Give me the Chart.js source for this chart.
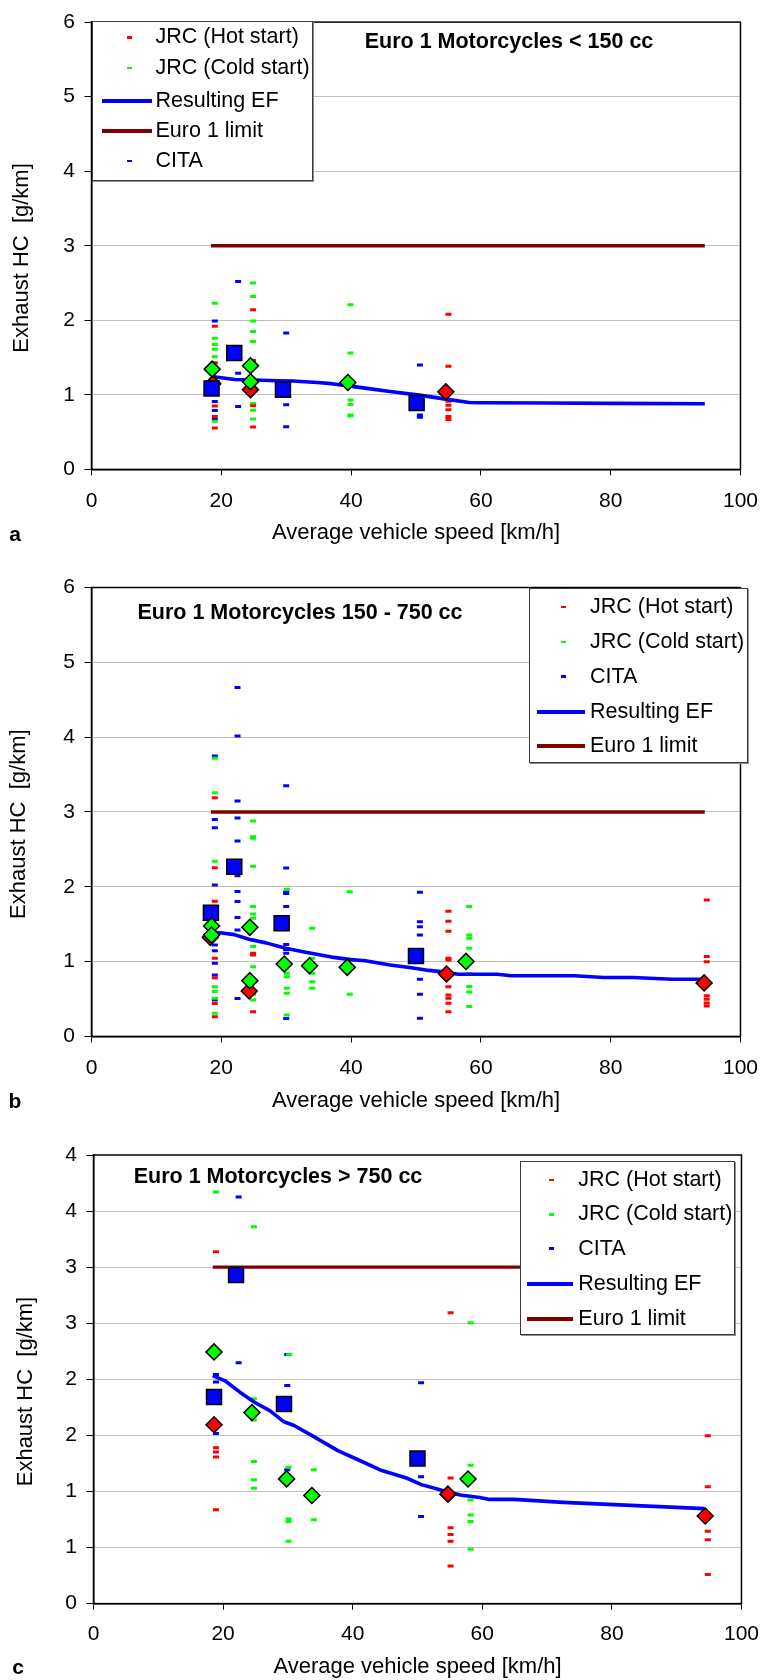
<!DOCTYPE html>
<html>
<head>
<meta charset="utf-8">
<script src="https://cdn.jsdelivr.net/npm/chart.js@4.4.1/dist/chart.umd.min.js"></script>
<style>
html,body{margin:0;padding:0;background:#fff;}
body{width:771px;height:1680px;position:relative;overflow:hidden;font-family:"Liberation Sans",Arial,Helvetica,sans-serif;color:#000;}
canvas{position:absolute;left:0;}
.t{position:absolute;line-height:1;white-space:nowrap;color:#000;}
.lg{position:absolute;border:1.5px solid #3a3a3a;background:#fff;box-sizing:border-box;box-shadow:1px 1px 0 #909090;}
.mk{position:absolute;}
</style>
</head>
<body>
<canvas id="ca" width="771" height="546" style="top:0px"></canvas>
<canvas id="cb" width="771" height="568" style="top:546px"></canvas>
<canvas id="cc" width="771" height="566" style="top:1114px"></canvas>
<script>
// ---------------- DATA ----------------
// Panel a: Euro 1 Motorcycles < 150 cc   [speed km/h, HC g/km]
const A_HOT  = [[19.0,1.92],[19.0,1.43],[19.0,0.85],[19.0,0.71],[19.0,0.555],
                [24.9,2.14],[24.9,1.46],[24.9,1.06],[24.9,0.855],[24.9,0.57],
                [55.0,2.08],[55.0,1.385],[55.0,0.915],[55.0,0.86],[55.0,0.80],[55.0,0.71],[55.0,0.67]];
const A_COLD = [[19.0,2.23],[19.0,1.76],[19.0,1.675],[19.0,1.61],[19.0,1.51],[19.0,0.645],
                [24.9,2.50],[24.9,2.32],[24.9,1.99],[24.9,1.85],[24.9,1.715],[24.9,1.06],[24.9,0.885],[24.9,0.795],[24.9,0.675],
                [39.9,2.21],[39.9,1.56],[39.9,0.93],[39.9,0.87],[39.9,0.73],[39.9,0.715]];
const A_CITA = [[19.0,1.99],[19.0,0.91],[19.0,0.79],[19.0,0.67],
                [22.6,2.52],[22.6,1.29],[22.6,0.845],
                [30.0,1.83],[30.0,0.867],[30.0,0.572],
                [50.6,1.40],[50.6,0.73],[50.6,0.70]];
const A_COLD_MEAN = [[18.6,1.345],[24.5,1.39],[24.5,1.175],[39.5,1.166]];
const A_HOT_MEAN  = [[18.7,1.15],[24.5,1.07],[54.6,1.04]];
const A_CITA_MEAN = [[18.5,1.086],[22.0,1.56],[29.5,1.07],[50.1,0.89]];
const A_EF = [[18.5,1.245],[20,1.23],[22.1,1.206],[25,1.2],[28.7,1.19],[31,1.185],[34.8,1.166],[37,1.15],
              [39.9,1.117],[43,1.08],[46,1.045],[50.5,0.996],[54.6,0.943],[58.2,0.898],[60,0.895],[70,0.89],[80,0.885],[94.5,0.88]];
const A_LIMIT = [[18.4,3],[94.5,3]];

// Panel b: Euro 1 Motorcycles 150 - 750 cc
const B_HOT  = [[19.0,3.19],[19.0,2.255],[19.0,1.805],[19.0,1.044],[19.0,0.785],[19.0,0.44],[19.0,0.264],
                [24.9,1.11],[24.9,1.088],[24.9,0.33],
                [55.0,1.672],[55.0,1.538],[55.0,1.405],[55.0,1.044],[55.0,1.02],[55.0,0.665],[55.0,0.553],[55.0,0.509],[55.0,0.442],[55.0,0.33],
                [94.8,1.823],[94.8,1.069],[94.8,0.997],[94.8,0.544],[94.8,0.496],[94.8,0.448],[94.8,0.406]];
const B_COLD = [[19.0,3.717],[19.0,3.257],[19.0,2.34],[19.0,0.665],[19.0,0.6],[19.0,0.51],[19.0,0.31],
                [24.9,2.88],[24.9,2.67],[24.9,2.65],[24.9,2.273],[24.9,1.737],[24.9,1.636],[24.9,1.578],[24.9,1.288],[24.9,1.2],[24.9,0.932],[24.9,0.56],[24.9,0.487],
                [30.1,1.966],[30.1,0.843],[30.1,0.798],[30.1,0.643],[30.1,0.576],[30.1,0.286],
                [34.0,1.445],[34.0,1.044],[34.0,0.843],[34.0,0.731],[34.0,0.643],
                [39.8,1.934],[39.8,0.563],
                [58.2,1.737],[58.2,1.355],[58.2,1.312],[58.2,1.179],[58.2,0.84],[58.2,0.668],[58.2,0.592],[58.2,0.401]];
const B_CITA = [[19.0,3.748],[19.0,2.90],[19.0,2.79],[19.0,2.024],[19.0,1.22],[19.0,1.145],[19.0,0.977],[19.0,0.82],[19.0,0.487],
                [22.5,4.663],[22.5,4.015],[22.5,3.146],[22.5,2.92],[22.5,2.611],[22.5,2.148],[22.5,1.938],[22.5,1.804],[22.5,1.59],[22.5,1.422],[22.5,0.505],
                [30.0,3.35],[30.0,2.252],[30.0,1.93],[30.0,1.91],[30.0,1.737],[30.0,1.227],[30.0,1.16],[30.0,1.11],[30.0,0.93],[30.0,0.238],
                [50.6,1.926],[50.6,1.533],[50.6,1.466],[50.6,1.355],[50.6,0.763],[50.6,0.563],[50.6,0.242]];
const B_COLD_MEAN = [[18.5,1.475],[18.5,1.355],[24.4,1.458],[24.4,0.745],[29.7,0.968],[33.6,0.945],[39.4,0.923],[57.7,1.002]];
const B_HOT_MEAN  = [[18.3,1.324],[24.3,0.607],[54.7,0.834],[94.4,0.715]];
const B_CITA_MEAN = [[18.4,1.653],[22.0,2.268],[29.3,1.511],[50.0,1.074]];
const B_EF = [[18.5,1.394],[20.1,1.383],[22,1.36],[24.25,1.298],[26.9,1.25],[29.9,1.179],[33.2,1.121],[37,1.06],
              [40,1.026],[42.2,1.012],[46,0.954],[49,0.921],[52,0.882],[54.6,0.859],[56.5,0.83],[62.5,0.83],
              [64.7,0.811],[74.4,0.811],[78.9,0.787],[83.4,0.787],[89.4,0.763],[94.4,0.763]];
const B_LIMIT = [[18.4,3],[94.5,3]];

// Panel c: Euro 1 Motorcycles > 750 cc
const C_HOT  = [[18.9,3.137],[18.9,1.39],[18.9,1.351],[18.9,1.308],[18.9,0.837],
                [55.1,2.594],[55.1,1.12],[55.1,0.676],[55.1,0.616],[55.1,0.557],[55.1,0.336],
                [94.8,1.496],[94.8,1.041],[94.8,0.646],[94.8,0.570],[94.8,0.26]];
const C_COLD = [[18.9,3.671],[18.9,1.572],
                [24.75,3.361],[24.75,1.826],[24.75,1.638],[24.75,1.266],[24.75,1.104],[24.75,1.028],
                [30.2,2.221],[30.1,1.216],[30.1,0.755],[30.1,0.731],[30.1,0.557],
                [34.0,1.193],[34.0,0.747],
                [58.2,2.504],[58.2,1.233],[58.2,0.923],[58.2,0.791],[58.2,0.731],[58.2,0.484]];
const C_CITA = [[18.9,2.043],[18.9,1.977],[18.9,1.516],
                [22.4,3.625],[22.4,2.148],
                [29.9,2.221],[29.9,1.944],[29.9,1.193],
                [50.55,1.97],[50.55,1.13],[50.55,0.777]];
const C_COLD_MEAN = [[18.6,2.244],[24.45,1.703],[29.8,1.112],[33.7,0.964],[57.8,1.111]];
const C_HOT_MEAN  = [[18.6,1.595],[54.7,0.976],[94.4,0.781]];
const C_CITA_MEAN = [[18.6,1.843],[22.0,2.93],[29.4,1.78],[50.0,1.293]];
const C_EF = [[18.4,2.033],[20.4,1.983],[22.6,1.885],[24.9,1.793],[27.2,1.72],[29.4,1.621],[30.95,1.588],[34,1.489],
              [37.7,1.364],[40.75,1.285],[44.5,1.186],[48.3,1.12],[50.6,1.061],[53.6,1.012],[56.6,0.969],[59.6,0.946],
              [61.1,0.929],[64.9,0.929],[72.5,0.903],[83.8,0.874],[94.3,0.847]];
const C_LIMIT = [[18.4,3],[94.5,3]];

// Axis ticks / labels
const X_TICKS = {min:0, max:100, step:20};
const Y_TICKS_AB = {min:0, max:6, step:1};
const Y_TICKS_C = {min:0, max:4, step:0.5};
const TITLES = ['Euro 1 Motorcycles < 150 cc','Euro 1 Motorcycles 150 - 750 cc','Euro 1 Motorcycles > 750 cc'];
const PANEL_LETTERS = ['a','b','c'];
const X_TITLE = 'Average vehicle speed [km/h]';
const Y_TITLE = 'Exhaust HC  [g/km]';
const LABELS = {hot:'JRC (Hot start)', cold:'JRC (Cold start)', cita:'CITA', ef:'Resulting EF', limit:'Euro 1 limit'};

// ---------------- STYLE / LAYOUT ----------------
const FONT = '"Liberation Sans", Arial, Helvetica, sans-serif';
const COL = {hot:'#ff0000', cold:'#00ff00', cita:'#0000ff', ef:'#0000ff', limit:'#800000'};

const PANELS = [
  {id:'ca', top:0, h:546, padTop:21.3, padRight:23, yW:91.5, xH:76.6, yT:Y_TICKS_AB, yTitlePad:9, xTickPad:13,
   data:{hot:A_HOT, cold:A_COLD, cita:A_CITA, coldM:A_COLD_MEAN, hotM:A_HOT_MEAN, citaM:A_CITA_MEAN, ef:A_EF, limit:A_LIMIT},
   titleX:509, titleY:42.2, letterX:15, letterY:535,
   legend:{left:91.7, top:21, w:221, h:160, order:['hot','cold','ef','limit','cita'], rows:[37.3,67.8,100.8,131.3,161.1],
           dashX:129.3, lineX1:101.7, lineX2:151.7, textX:155.5}},
  {id:'cb', top:546, h:568, padTop:41.5, padRight:23, yW:91.5, xH:77.6, yT:Y_TICKS_AB, yTitlePad:6, xTickPad:13,
   data:{hot:B_HOT, cold:B_COLD, cita:B_CITA, coldM:B_COLD_MEAN, hotM:B_HOT_MEAN, citaM:B_CITA_MEAN, ef:B_EF, limit:B_LIMIT},
   titleX:300, titleY:613.4, letterX:15, letterY:1101.7,
   legend:{left:529.3, top:588, w:219, h:175, order:['hot','cold','cita','ef','limit'], rows:[607,642,676.7,712.3,745.7],
           dashX:563.3, lineX1:536.7, lineX2:585, textX:590}},
  {id:'cc', top:1114, h:566, padTop:41, padRight:26.5, yW:93.5, xH:76.4, yT:Y_TICKS_C, yTitlePad:12.5, xTickPad:12,
   data:{hot:C_HOT, cold:C_COLD, cita:C_CITA, coldM:C_COLD_MEAN, hotM:C_HOT_MEAN, citaM:C_CITA_MEAN, ef:C_EF, limit:C_LIMIT},
   titleX:278, titleY:1176.7, letterX:18, letterY:1668,
   legend:{left:520, top:1161, w:215, h:174, order:['hot','cold','cita','ef','limit'], rows:[1179.8,1214.3,1248.6,1283.7,1318.6],
           dashX:551.7, lineX1:526.7, lineX2:573.3, textX:578.3}}
];

function pts(arr){ return arr.map(p => ({x:p[0], y:p[1]})); }

const framePlugin = {
  id:'frame',
  beforeDatasetsDraw(chart){
    const a = chart.chartArea, c = chart.ctx;
    c.save();
    c.strokeStyle = '#000';
    c.lineWidth = 1.5;
    c.strokeRect(a.left, a.top, a.right - a.left, a.bottom - a.top);
    c.restore();
  }
};

function dashSet(label, arr, color, order){
  return {label, data:pts(arr), pointStyle:'line', pointRadius:3, pointBorderWidth:3,
          pointBorderColor:color, pointBackgroundColor:color, borderColor:color, backgroundColor:color,
          showLine:false, order};
}
function markerSet(label, arr, style, radius, fill, order){
  return {label, data:pts(arr), pointStyle:style, pointRadius:radius, pointBorderWidth:1.5,
          pointBorderColor:'#000', pointBackgroundColor:fill, borderColor:'#000', backgroundColor:fill,
          showLine:false, order};
}
function lineSet(label, arr, color, width, order){
  return {type:'line', label, data:pts(arr), borderColor:color, backgroundColor:color, borderWidth:width,
          pointRadius:0, fill:false, tension:0, order, borderCapStyle:'butt', borderJoinStyle:'round'};
}

PANELS.forEach((P, i) => {
  const d = P.data;
  const datasets = [
    markerSet('JRC cold mean', d.coldM, 'rectRot', 8, COL.cold, 0),
    markerSet('CITA mean', d.citaM, 'rect', 10.6, COL.cita, 1),
    markerSet('JRC hot mean', d.hotM, 'rectRot', 8, COL.hot, 2),
    lineSet(LABELS.ef, d.ef, COL.ef, 3.6, 3),
    lineSet(LABELS.limit, d.limit, COL.limit, 3.4, 4),
    dashSet(LABELS.hot, d.hot, COL.hot, 5),
    dashSet(LABELS.cold, d.cold, COL.cold, 6),
    dashSet(LABELS.cita, d.cita, COL.cita, 7)
  ];
  const yT = P.yT;
  new Chart(document.getElementById(P.id), {
    type:'scatter',
    data:{datasets},
    plugins:[framePlugin],
    options:{
      responsive:false, animation:false, events:[], devicePixelRatio:1,
      layout:{padding:{left:0, top:P.padTop, right:P.padRight, bottom:0}},
      plugins:{legend:{display:false}, tooltip:{enabled:false}, title:{display:false}},
      scales:{
        x:{type:'linear', position:'bottom', min:X_TICKS.min, max:X_TICKS.max,
           ticks:{stepSize:X_TICKS.step, color:'#000', font:{family:FONT, size:21}, padding:P.xTickPad, maxRotation:0, autoSkip:false},
           grid:{drawOnChartArea:false, drawTicks:true, tickLength:6, tickColor:'#000', tickWidth:1},
           border:{display:true, color:'#000', width:1.5},
           title:{display:true, text:X_TITLE, color:'#000', font:{family:FONT, size:22}, padding:{top:0, bottom:0}},
           afterFit(s){ s.height = P.xH; }},
        y:{type:'linear', position:'left', min:yT.min, max:yT.max,
           ticks:{stepSize:yT.step, color:'#000', font:{family:FONT, size:21}, padding:9.5,
                  callback:(v) => String(Math.round(v))},
           grid:{color:(c) => (c.tick && (c.tick.value === yT.min || c.tick.value === yT.max)) ? 'rgba(0,0,0,0)' : '#c0c0c0',
                 lineWidth:1, drawTicks:true, tickLength:7, tickColor:'#000', tickWidth:1},
           border:{display:true, color:'#000', width:1.5},
           title:{display:true, text:Y_TITLE + '    ', color:'#000', font:{family:FONT, size:22}, padding:{top:P.yTitlePad, bottom:0}},
           afterFit(s){ s.width = P.yW; }}
      }
    }
  });

  // chart title (inside plot area)
  addText(TITLES[i], P.titleX, P.titleY, 'bold 21.5px ' + FONT, 'center');
  // panel letter
  addText(PANEL_LETTERS[i], P.letterX, P.letterY - 1.7, 'bold 21px ' + FONT, 'center');
  // legend
  buildLegend(P.legend);
});

function addText(txt, x, y, font, align){
  const el = document.createElement('div');
  el.className = 't';
  el.style.font = font;
  el.style.lineHeight = '1';
  el.textContent = txt;
  el.style.left = x + 'px';
  el.style.top = y + 'px';
  el.style.transform = align === 'center' ? 'translate(-50%,-50%)' : 'translate(0,-50%)';
  document.body.appendChild(el);
  return el;
}

function buildLegend(L){
  const box = document.createElement('div');
  box.className = 'lg';
  box.style.left = L.left + 'px';
  box.style.top = L.top + 'px';
  box.style.width = L.w + 'px';
  box.style.height = L.h + 'px';
  document.body.appendChild(box);
  L.order.forEach((key, k) => {
    const y = L.rows[k];
    const m = document.createElement('div');
    m.className = 'mk';
    m.style.background = COL[key];
    if (key === 'ef' || key === 'limit') {
      m.style.left = L.lineX1 + 'px';
      m.style.width = (L.lineX2 - L.lineX1) + 'px';
      m.style.top = (y - 2) + 'px';
      m.style.height = '4px';
    } else {
      m.style.left = (L.dashX - 2.5) + 'px';
      m.style.width = '5px';
      m.style.top = (y - 1.3) + 'px';
      m.style.height = '2.6px';
    }
    document.body.appendChild(m);
    addText(LABELS[key], L.textX, y, '21.5px ' + FONT, 'left');
  });
}
</script>
</body>
</html>
